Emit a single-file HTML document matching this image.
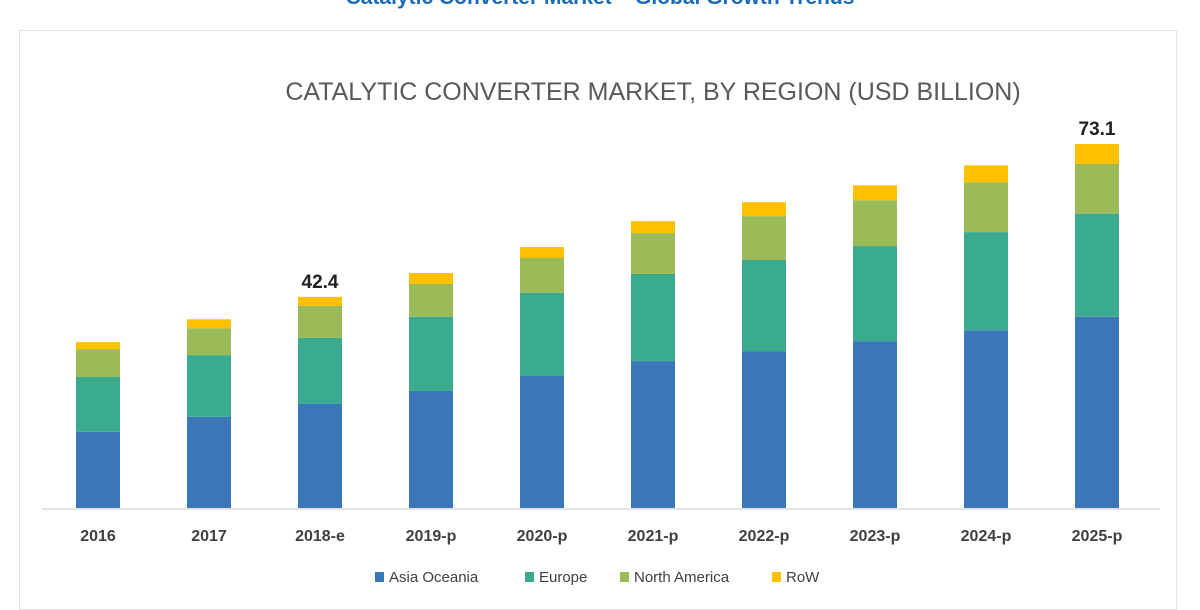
<!DOCTYPE html>
<html><head><meta charset="utf-8"><style>
html,body{margin:0;padding:0;background:#fff;}
body{width:1200px;height:600px;position:relative;overflow:hidden;font-family:"Liberation Sans",sans-serif;}
</style></head><body>
<div style="position:absolute;left:0;width:1200px;top:-14px;text-align:center;color:#1a6bb5;font-weight:bold;font-size:21px;">Catalytic Converter Market – Global Growth Trends</div>
<div style="position:absolute;left:19px;top:30px;width:1158px;height:580px;border:1px solid #e2e2e2;box-sizing:border-box;"></div>
<svg id="chart" width="1200" height="600" style="position:absolute;left:0;top:0;">
<text x="653" y="100" text-anchor="middle" font-size="25" fill="#595959" font-family="Liberation Sans, sans-serif">CATALYTIC CONVERTER MARKET, BY REGION (USD BILLION)</text>
<line x1="42" x2="1160" y1="509" y2="509" stroke="#d9d9d9" stroke-width="1.5"/>
</svg>
<script>
const categories=["2016","2017","2018-e","2019-p","2020-p","2021-p","2022-p","2023-p","2024-p","2025-p"];
const asiaOceania=[15.3,18.3,20.9,23.5,26.5,29.5,31.5,33.5,35.7,38.4];
const europe=[11.0,12.4,13.3,14.9,16.7,17.5,18.3,19.1,19.7,20.7];
const northAmerica=[5.6,5.4,6.4,6.6,7.0,8.2,8.8,9.2,10.0,10.0];
const row=[1.4,1.8,1.8,2.2,2.2,2.4,2.8,3.0,3.4,4.0];
const totalLabels=[null,null,"42.4",null,null,null,null,null,null,"73.1"];
const seriesNames=["Asia Oceania","Europe","North America","RoW"];
const NS="http://www.w3.org/2000/svg";
const svg=document.getElementById("chart");
const colors=["#3a76b8","#3aab8f","#9bbb59","#ffc000"];
const series=[asiaOceania,europe,northAmerica,row];
const base=508,scale=4.98,x0=98,step=111,bw=44;
function xPos(i){return x0+i*step;}
function yPos(v){return base-v*scale;}
categories.forEach((c,i)=>{
  let cum=0;
  series.forEach((s,k)=>{
    const r=document.createElementNS(NS,"rect");
    
    
    r.setAttribute("x",xPos(i)-bw/2);
    r.setAttribute("y",yPos(cum+s[i]));
    r.setAttribute("width",bw);
    r.setAttribute("height",s[i]*scale);
    r.setAttribute("fill",colors[k]);
    svg.appendChild(r);
    cum+=s[i];
  });
  const t=document.createElementNS(NS,"text");
  
  
  t.setAttribute("x",xPos(i));t.setAttribute("y",541);
  t.setAttribute("text-anchor","middle");t.setAttribute("font-size","16");
  t.setAttribute("font-weight","bold");t.setAttribute("fill","#404040");
  t.textContent=c;svg.appendChild(t);
  if(totalLabels[i]){
    const l=document.createElementNS(NS,"text");
    
    
    l.setAttribute("x",xPos(i));l.setAttribute("y",yPos(cum)-9);
    l.setAttribute("text-anchor","middle");l.setAttribute("font-size","19");
    l.setAttribute("font-weight","bold");l.setAttribute("fill","#222");
    l.textContent=totalLabels[i];svg.appendChild(l);
  }
});
const legX=[375,525,620,772];
seriesNames.forEach((n,k)=>{
  const r=document.createElementNS(NS,"rect");
  
  
  r.setAttribute("x",legX[k]);r.setAttribute("y",572);r.setAttribute("width",9);r.setAttribute("height",10);
  r.setAttribute("fill",colors[k]);svg.appendChild(r);
  const t=document.createElementNS(NS,"text");
  
  
  t.setAttribute("x",legX[k]+14);t.setAttribute("y",582);t.setAttribute("font-size","15");
  t.setAttribute("fill","#404040");t.textContent=n;svg.appendChild(t);
});
</script>
</body></html>
